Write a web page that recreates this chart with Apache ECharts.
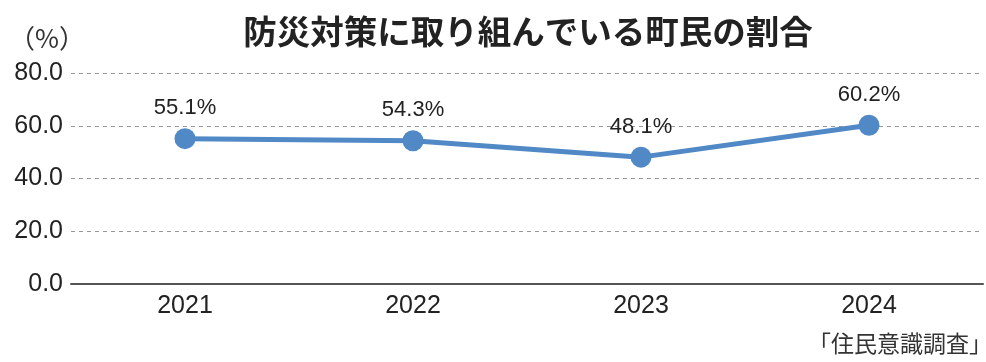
<!DOCTYPE html>
<html>
<head>
<meta charset="utf-8">
<script src="https://cdn.jsdelivr.net/npm/echarts@6/dist/echarts.min.js"></script>
<style>
html,body{margin:0;padding:0;background:#fff;}
#chart{width:986px;height:362px;}
</style>
</head>
<body>
<div id="chart"></div>
<script>
const years = ['2021', '2022', '2023', '2024'];
const shares = [55.1, 54.3, 48.1, 60.2];
const yTicks = [0, 20, 40, 60, 80];

const FONT = '"Liberation Sans", "Noto Sans CJK JP", sans-serif';
const JP = '"Noto Sans CJK JP", sans-serif';
const chart = echarts.init(document.getElementById('chart'));
chart.setOption({
  animation: false,
  backgroundColor: '#fff',
  title: {
    text: '防災対策に取り組んでいる町民の割合',
    left: 523, top: 10, textAlign: 'center',
    textStyle: { fontFamily: JP, fontSize: 33.5, fontWeight: 'bold', color: '#222' }
  },
  graphic: [
    { type: 'text', left: 9, top: 25,
      style: { text: '（%）', font: '26px ' + JP, fill: '#333' } },
    { type: 'text', right: -6, top: 332,
      style: { text: '「住民意識調査」', font: '23px ' + JP, fill: '#333' } }
  ],
  grid: { left: 71, right: 3, top: 73, bottom: 78 },
  xAxis: {
    type: 'category', data: years, boundaryGap: true,
    axisLine: { lineStyle: { color: '#555', width: 2 } },
    axisTick: { show: false },
    axisLabel: { fontFamily: FONT, fontSize: 25, color: '#222', margin: 10 }
  },
  yAxis: {
    type: 'value', min: yTicks[0], max: yTicks[yTicks.length - 1], interval: 20,
    axisLine: { show: false }, axisTick: { show: false },
    axisLabel: { fontFamily: FONT, fontSize: 25, color: '#222', margin: 8,
      formatter: v => v.toFixed(1) },
    splitLine: { lineStyle: { color: '#999', type: [4, 4], width: 1 } }
  },
  series: [{
    type: 'line', data: shares,
    lineStyle: { color: '#5089c6', width: 5 },
    itemStyle: { color: '#5089c6' },
    symbol: 'circle', symbolSize: 21,
    label: { show: true, position: 'top', distance: 9,
      formatter: p => p.value.toFixed(1) + '%',
      fontFamily: FONT, fontSize: 22, color: '#222' }
  }]
});
</script>
</body>
</html>
